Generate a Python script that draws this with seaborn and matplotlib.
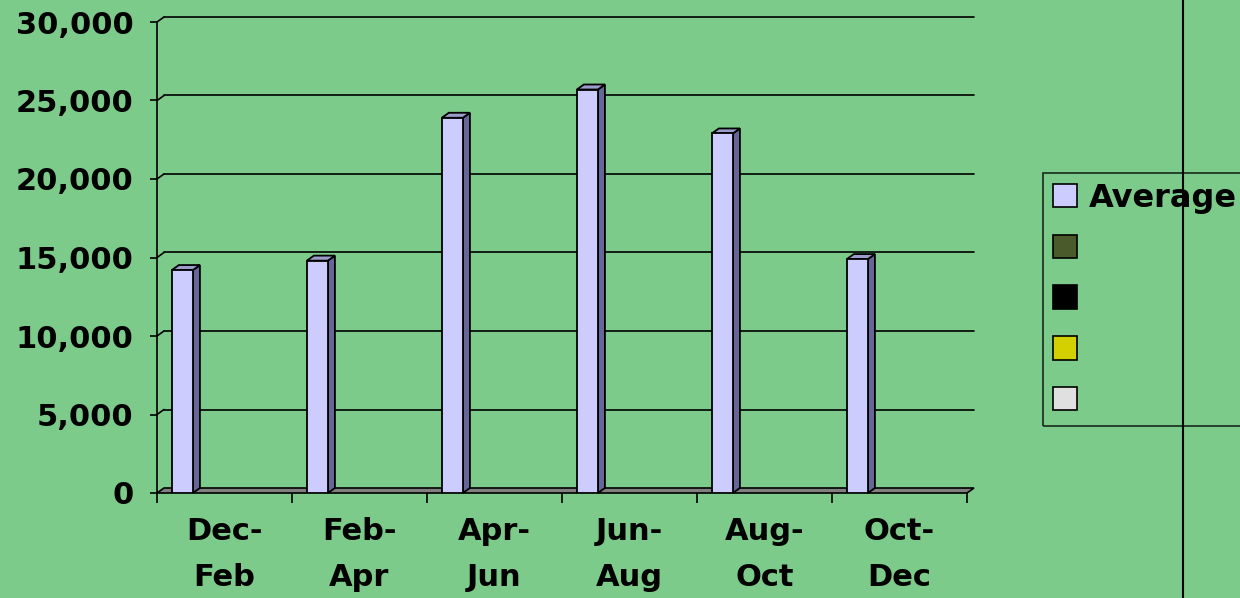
import matplotlib
matplotlib.use('Agg')
import matplotlib.pyplot as plt
import matplotlib.patches as mpatches
import seaborn as sns
import pandas as pd

periods = ['Dec-\nFeb', 'Feb-\nApr', 'Apr-\nJun', 'Jun-\nAug', 'Aug-\nOct', 'Oct-\nDec']
average = [14200, 14800, 23900, 25700, 22900, 14900]
series_names = ['Average', ' ', '  ', '   ', '    ']
series_colors = ['#CCCCFF', '#4A5A2A', '#000000', '#D4D000', '#E0E0E0']
y_ticks = [0, 5000, 10000, 15000, 20000, 25000, 30000]

bg = '#7CCB8A'
side_color = '#666699'
top_color = '#9C9CCC'
floor_color = '#808080'

sns.set_style('white')
plt.rcParams['font.family'] = ['DejaVu Sans']
plt.rcParams['font.weight'] = 'bold'
plt.rcParams['text.color'] = 'black'
plt.rcParams['xtick.color'] = 'black'
plt.rcParams['ytick.color'] = 'black'

fig = plt.figure(figsize=(12.4, 5.98), dpi=100, facecolor=bg)
ax = fig.add_axes([157 / 1240, 105 / 598, 810 / 1240, 471 / 598])
ax.set_facecolor('none')

df = pd.DataFrame({'Period': periods, 'Value': average, 'Series': 'Average'})
sns.barplot(data=df, x='Period', y='Value', hue='Series', hue_order=series_names,
            palette=dict(zip(series_names, series_colors)), width=0.78, dodge=True,
            saturation=1, edgecolor='black', linewidth=1.3, legend=False, ax=ax, zorder=5)

ax.set_xlim(-0.5, len(periods) - 0.5)
ax.set_ylim(0, 30000)

# depth of the 3d effect in pixels -> data units
dx = 7 * len(periods) / 810
dy = 5 * 30000 / 471

# back wall gridlines and the small diagonal joins
for t in y_ticks[1:]:
    ax.plot([-0.5 + dx, len(periods) - 0.5 + dx], [t + dy, t + dy], color='black', lw=1.2, zorder=1, clip_on=False)
    ax.plot([-0.5, -0.5 + dx], [t, t + dy], color='black', lw=1.2, zorder=1, clip_on=False)

# floor
floor = mpatches.Polygon([(-0.5, 0), (len(periods) - 0.5, 0), (len(periods) - 0.5 + dx, dy), (-0.5 + dx, dy)],
                         closed=True, facecolor=floor_color, edgecolor='black', lw=1.2, zorder=2, clip_on=False)
ax.add_patch(floor)

# 3d sides and tops of the bars
bars = [p for p in ax.patches if isinstance(p, mpatches.Rectangle) and p.get_height() > 0]
for bar in bars:
    x0 = bar.get_x()
    x1 = x0 + bar.get_width()
    h = bar.get_height()
    side = mpatches.Polygon([(x1, 0), (x1, h), (x1 + dx, h + dy), (x1 + dx, dy)], closed=True,
                            facecolor=side_color, edgecolor='black', lw=1.3, zorder=4, clip_on=False)
    top = mpatches.Polygon([(x0, h), (x1, h), (x1 + dx, h + dy), (x0 + dx, h + dy)], closed=True,
                           facecolor=top_color, edgecolor='black', lw=1.3, zorder=4, clip_on=False)
    ax.add_patch(side)
    ax.add_patch(top)

for s in ['top', 'right', 'bottom']:
    ax.spines[s].set_visible(False)
ax.spines['left'].set_linewidth(1.2)
ax.spines['left'].set_color('black')
ax.spines['left'].set_zorder(6)

ax.set_yticks(y_ticks)
ax.set_yticklabels([f'{t:,}' for t in y_ticks], fontsize=22, fontweight='bold')
ax.tick_params(axis='y', direction='out', length=5, width=1.2, pad=12, left=True)

ax.set_xticks([i - 0.5 for i in range(len(periods) + 1)], minor=False)
ax.set_xticklabels([])
ax.tick_params(axis='x', direction='out', length=7, width=1.2, bottom=True)
ax.set_xticks(range(len(periods)), minor=True)
ax.set_xticklabels(periods, minor=True, fontsize=22, fontweight='bold', linespacing=1.75)
ax.tick_params(axis='x', which='minor', length=0, pad=17)
ax.set_xlabel('')
ax.set_ylabel('')

# legend
handles = [mpatches.Patch(facecolor=c, edgecolor='black', lw=1.2) for c in series_colors]
labels = ['Average', '', '', '', '']
leg = fig.legend(handles, labels, loc='upper left', bbox_to_anchor=(1043 / 1240, 1 - 173 / 598),
                 bbox_transform=fig.transFigure, frameon=True, fancybox=False,
                 prop={'size': 23, 'weight': 'bold'}, handlelength=0.75, handleheight=0.75,
                 labelspacing=0.62, handletextpad=0.4, borderpad=0.3, borderaxespad=0)
leg.get_frame().set_facecolor('none')
leg.get_frame().set_edgecolor('black')
leg.get_frame().set_linewidth(1.2)

# vertical line through the legend
fig.add_artist(plt.Line2D([1183 / 1240, 1183 / 1240], [0, 1], transform=fig.transFigure, color='black', lw=1.5))

fig.savefig('out.png', dpi=100, facecolor=bg)
